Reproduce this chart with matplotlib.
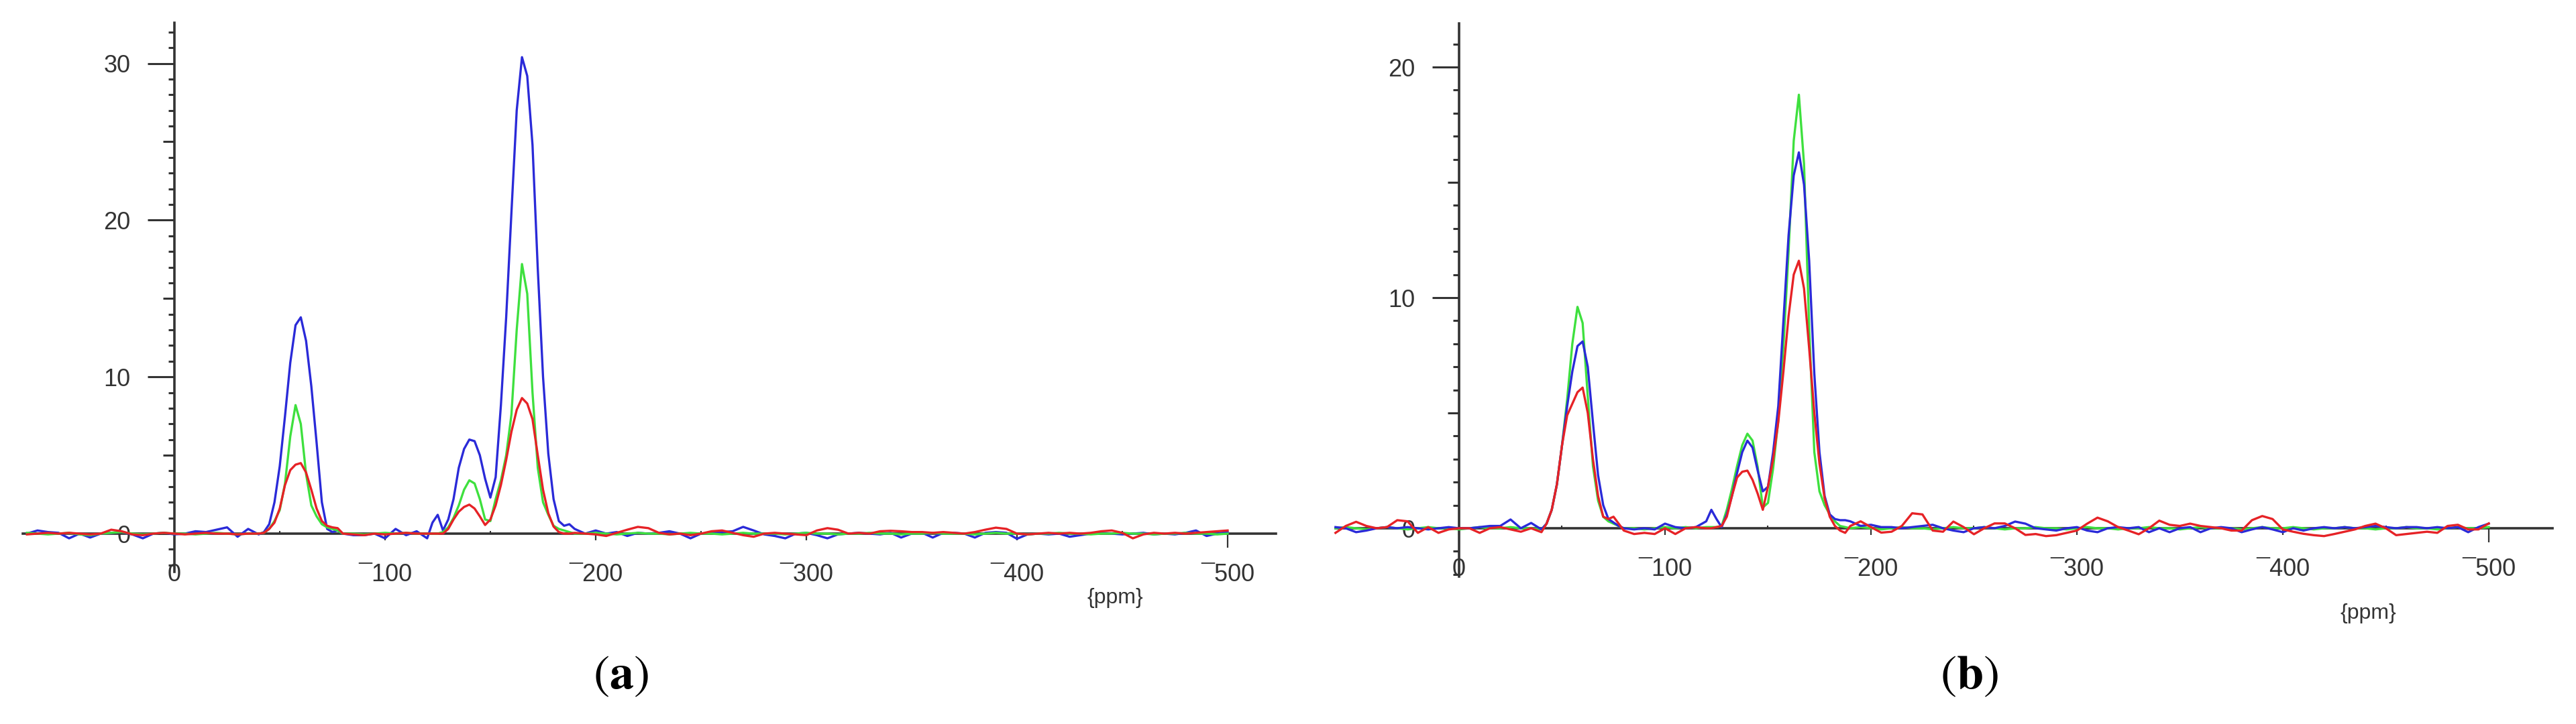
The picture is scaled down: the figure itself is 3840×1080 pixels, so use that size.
import matplotlib
matplotlib.use('Agg')
import matplotlib.pyplot as plt

# chemical shift grid (ppm) shared by both spectra; panel (b) starts at -60
ppm = [-70, -65, -60, -55, -50, -45, -40, -35, -30, -25, -20, -15, -10, -5, 0, 5, 10, 15, 20, 25, 30, 35, 40,
       42.5, 45, 47.5, 50, 52.5, 55, 57.5, 60, 62.5, 65, 67.5, 70, 72.5, 75, 77.5, 80,
       85, 90, 95, 100, 105, 110, 115, 120,
       122.5, 125, 127.5, 130, 132.5, 135, 137.5, 140, 142.5, 145, 147.5, 150, 152.5, 155, 157.5, 160,
       162.5, 165, 167.5, 170, 172.5, 175, 177.5, 180, 182.5, 185, 187.5, 190,
       195, 200, 205, 210, 215, 220, 225, 230, 235, 240, 245, 250, 255, 260, 265, 270, 275, 280, 285, 290,
       295, 300, 305, 310, 315, 320, 325, 330, 335, 340, 345, 350, 355, 360, 365, 370, 375, 380, 385, 390,
       395, 400, 405, 410, 415, 420, 425, 430, 435, 440, 445, 450, 455, 460, 465, 470, 475, 480, 485, 490,
       495, 500]

# panel (a)
blue_a = [0.0, 0.2, 0.1, 0.05, -0.3, 0.0, -0.25, 0.0, 0.05, 0.1, -0.05, -0.3, 0.0, 0.05, -0.05, 0.0, 0.15, 0.1, 0.25, 0.4, -0.2, 0.3, -0.05,
          0.1, 0.6, 2.0, 4.3, 7.5, 10.9, 13.3, 13.8, 12.3, 9.4, 5.8, 2.0, 0.3, 0.1, 0.2, 0.0,
          -0.1, -0.1, 0.0, -0.3, 0.3, -0.1, 0.15, -0.3,
          0.7, 1.2, 0.2, 0.9, 2.2, 4.2, 5.4, 6.0, 5.9, 5.0, 3.5, 2.3, 3.6, 8.2, 13.8, 20.5,
          27.0, 30.4, 29.2, 24.8, 16.9, 10.0, 5.1, 2.2, 0.8, 0.5, 0.6, 0.3,
          0.0, 0.2, 0.0, 0.1, -0.15, 0.05, 0.0, 0.05, 0.15, 0.0, -0.3, 0.0, 0.05, 0.1, 0.15, 0.43, 0.2, -0.05, -0.15, -0.3,
          0.0, 0.05, -0.1, -0.3, -0.05, 0.0, 0.05, 0.0, -0.05, 0.05, -0.25, 0.0, 0.05, -0.25, 0.05, 0.05, 0.0, -0.25, 0.05, 0.1,
          0.05, -0.33, -0.05, 0.0, -0.05, 0.0, -0.2, -0.1, 0.0, 0.05, 0.0, -0.05, 0.0, 0.05, -0.05, 0.0, -0.05, 0.05, 0.2, -0.15,
          0.0, 0.1]
green_a = [0.05, 0.0, -0.05, 0.0, 0.05, -0.05, -0.1, 0.0, 0.05, 0.1, 0.0, -0.05, 0.0, 0.05, 0.0, 0.0, -0.05, 0.0, 0.05, 0.0, -0.05, 0.0, 0.0,
           0.05, 0.3, 0.8, 1.5, 3.2, 6.2, 8.2, 7.0, 3.8, 1.8, 1.1, 0.6, 0.4, 0.3, 0.2, 0.0,
           0.0, -0.05, 0.0, 0.05, 0.0, 0.05, 0.0, 0.0,
           0.0, 0.0, 0.1, 0.4, 1.0, 1.8, 2.8, 3.4, 3.2, 2.2, 0.9, 0.8, 2.2, 3.4, 5.0, 7.6,
           13.0, 17.2, 15.3, 9.0, 4.2, 2.0, 1.2, 0.5, 0.3, 0.2, 0.1, 0.0,
           0.0, 0.05, 0.0, -0.05, 0.0, 0.05, 0.0, 0.0, -0.05, 0.0, 0.05, 0.0, 0.0, -0.05, 0.0, 0.05, 0.0, 0.0, 0.0, -0.05,
           0.0, 0.05, 0.0, 0.0, -0.05, 0.0, 0.0, 0.05, 0.0, 0.0, -0.05, 0.0, 0.0, 0.05, 0.0, 0.0, 0.0, -0.05, 0.0, 0.05,
           0.0, 0.0, -0.05, 0.0, 0.0, 0.05, 0.0, 0.0, -0.05, 0.0, 0.0, 0.05, 0.0, 0.0, -0.05, 0.0, 0.0, 0.05, 0.0, 0.0,
           -0.05, 0.0]
red_a = [-0.05, 0.0, 0.05, 0.0, 0.05, 0.0, -0.05, 0.0, 0.25, 0.15, -0.05, -0.1, 0.0, 0.05, 0.0, -0.05, 0.0, 0.05, 0.0, 0.0, -0.05, 0.0, 0.0,
         0.05, 0.3, 0.7, 1.6, 3.1, 4.05, 4.4, 4.5, 3.9, 2.8, 1.6, 0.8, 0.5, 0.4, 0.35, 0.0,
         -0.05, -0.1, 0.0, -0.05, 0.0, 0.05, 0.0, 0.0,
         0.0, 0.0, 0.0, 0.3, 0.9, 1.4, 1.7, 1.85, 1.6, 1.1, 0.55, 0.9, 1.8, 3.1, 4.7, 6.5,
         7.9, 8.65, 8.3, 7.3, 5.0, 2.8, 1.3, 0.45, 0.1, 0.0, 0.0, 0.05,
         0.0, -0.05, -0.15, 0.05, 0.25, 0.43, 0.35, 0.05, -0.05, 0.0, -0.1, 0.0, 0.15, 0.2, 0.05, -0.1, -0.2, 0.0, 0.05, 0.0,
         -0.05, -0.1, 0.2, 0.35, 0.25, 0.0, 0.05, 0.0, 0.15, 0.18, 0.15, 0.1, 0.1, 0.05, 0.1, 0.05, 0.0, 0.1, 0.25, 0.38,
         0.3, 0.0, -0.05, 0.0, 0.05, 0.0, 0.05, 0.0, 0.05, 0.15, 0.2, 0.05, -0.3, -0.05, 0.05, 0.0, 0.05, 0.0, 0.05, 0.1,
         0.15, 0.2]

# panel (b), from -60 ppm
blue_b = [0.05, 0.0, -0.17, -0.1, 0.0, 0.05, 0.0, 0.05, 0.0, -0.05, 0.0, 0.05, 0.0, 0.0, 0.05, 0.1, 0.1, 0.38, 0.0, 0.23, -0.05,
          0.2, 0.8, 1.9, 3.6, 5.3, 6.8, 7.9, 8.1, 7.0, 4.6, 2.3, 1.0, 0.4, 0.25, 0.1, 0.0,
          -0.05, 0.0, -0.05, 0.2, 0.05, 0.0, 0.05, 0.3,
          0.8, 0.4, 0.05, 0.6, 1.4, 2.4, 3.3, 3.8, 3.5, 2.5, 1.6, 1.8, 3.3, 5.3, 9.0, 12.7,
          15.3, 16.3, 14.9, 11.6, 6.7, 3.3, 1.4, 0.6, 0.4, 0.35, 0.35, 0.3,
          0.1, 0.15, 0.05, 0.05, 0.0, 0.05, 0.1, 0.15, 0.0, -0.1, -0.17, 0.0, 0.05, 0.0, 0.1, 0.29, 0.2, 0.0, -0.05, -0.1,
          0.0, 0.05, -0.1, -0.17, 0.0, 0.05, 0.0, 0.05, -0.17, 0.0, -0.17, 0.0, 0.05, -0.17, 0.0, 0.05, 0.0, -0.17, -0.05, 0.05,
          -0.05, -0.17, 0.0, -0.1, 0.0, 0.05, 0.0, 0.05, 0.0, 0.05, 0.1, 0.05, 0.0, 0.05, 0.05, 0.0, 0.05, 0.0, 0.05, -0.17,
          0.05, 0.2]
green_b = [0.0, 0.05, 0.0, -0.05, 0.0, 0.05, 0.0, -0.05, 0.0, 0.05, 0.0, 0.0, -0.05, 0.0, 0.05, 0.0, 0.0, 0.05, 0.0, 0.0, -0.05,
           0.2, 0.8, 1.9, 3.6, 5.6, 8.0, 9.6, 8.9, 5.7, 2.7, 1.2, 0.5, 0.3, 0.2, 0.1, 0.0,
           0.0, -0.05, 0.0, 0.05, 0.0, 0.05, 0.0, 0.05,
           0.05, 0.05, 0.1, 0.8, 1.7, 2.7, 3.6, 4.1, 3.8, 2.65, 0.9, 1.1, 2.6, 4.7, 7.9, 12.0,
           16.8, 18.8, 15.8, 8.7, 3.3, 1.6, 1.0, 0.6, 0.3, 0.1, 0.05, 0.0,
           0.05, 0.0, -0.05, 0.0, 0.05, 0.0, 0.0, -0.05, 0.0, 0.05, 0.0, 0.0, 0.05, 0.0, -0.05, 0.0, 0.0, 0.05, 0.0, 0.0,
           -0.05, 0.0, 0.05, 0.0, 0.0, -0.05, 0.0, 0.0, 0.05, 0.0, 0.0, -0.05, 0.0, 0.05, 0.0, 0.0, 0.0, -0.05, 0.0, 0.05,
           0.0, 0.0, 0.05, 0.0, -0.05, 0.0, 0.0, 0.05, 0.0, 0.0, -0.05, 0.0, 0.0, 0.05, 0.0, 0.0, -0.05, 0.0, 0.05, 0.0,
           0.0, 0.05]
red_b = [-0.2, 0.1, 0.28, 0.1, 0.0, 0.05, 0.35, 0.3, -0.2, 0.05, -0.2, -0.05, 0.0, 0.0, -0.2, 0.0, 0.05, -0.05, -0.15, 0.0, -0.17,
         0.2, 0.8, 1.9, 3.6, 4.9, 5.4, 5.9, 6.1, 5.0, 3.0, 1.4, 0.5, 0.4, 0.5, 0.2, -0.1,
         -0.25, -0.2, -0.25, 0.0, -0.25, 0.0, 0.05, 0.0,
         0.0, 0.05, 0.1, 0.5, 1.4, 2.2, 2.45, 2.5, 2.1, 1.5, 0.8, 1.8, 3.0, 4.6, 6.8, 9.2,
         11.0, 11.6, 10.4, 7.8, 5.0, 2.8, 1.3, 0.5, 0.1, -0.1, -0.2, 0.1,
         0.3, 0.05, -0.19, -0.15, 0.1, 0.65, 0.6, -0.1, -0.15, 0.29, 0.05, -0.26, 0.0, 0.21, 0.21, 0.0, -0.29, -0.25, -0.34, -0.3,
         -0.2, -0.1, 0.2, 0.46, 0.3, 0.05, -0.1, -0.26, 0.0, 0.33, 0.15, 0.1, 0.2, 0.1, 0.05, 0.0, -0.1, -0.1, 0.35, 0.53,
         0.4, -0.05, -0.15, -0.24, -0.3, -0.34, -0.25, -0.15, -0.05, 0.1, 0.2, 0.0, -0.3, -0.25, -0.2, -0.15, -0.2, 0.1, 0.15, -0.05,
         -0.05, 0.21]

x_ticks = [0, 100, 200, 300, 400, 500]
x_labels = ['0', '\u00af100', '\u00af200', '\u00af300', '\u00af400', '\u00af500']

BLUE = '#2a2ad8'
GREEN = '#3ee03e'
RED = '#e62226'
AXC = '#333333'
TXT = '#333333'

W, H = 3840, 1080
plt.rcParams['mathtext.fontset'] = 'stix'
fig = plt.figure(figsize=(W / 100, H / 100), dpi=100)


def panel(x0, sx, y0, sy, xlim, ylim):
	# place axes so that data (0,0) falls on pixel (x0, y0)
	left = x0 + xlim[0] * sx
	right = x0 + xlim[1] * sx
	top = y0 - ylim[1] * sy
	bottom = y0 - ylim[0] * sy
	ax = fig.add_axes([left / W, 1 - bottom / H, (right - left) / W, (bottom - top) / H])
	ax.set_xlim(xlim)
	ax.set_ylim(ylim)
	ax.patch.set_visible(False)
	return ax


def style(ax, xspan, yspan, yticks, ymax_minor):
	for s in ['top', 'right']:
		ax.spines[s].set_visible(False)
	for s in ['left', 'bottom']:
		ax.spines[s].set_position(('data', 0))
		ax.spines[s].set_color(AXC)
		ax.spines[s].set_linewidth(2.6)
	ax.spines['bottom'].set_bounds(*xspan)
	ax.spines['left'].set_bounds(*yspan)

	ax.set_yticks(yticks)
	ax.set_yticklabels([str(t) for t in yticks])
	ax.set_yticks(list(range(-2, ymax_minor + 1)), minor=True)
	ax.tick_params(axis='y', which='major', direction='out', length=29, width=2.2,
				   color=AXC, pad=18, labelsize=26, labelcolor=TXT)
	ax.tick_params(axis='y', which='minor', direction='out', length=6.5, width=2.2, color=AXC)
	for loc, tick in zip(ax.yaxis.get_minorticklocs(), ax.yaxis.get_minor_ticks()):
		if round(loc) % 5 == 0:
			tick.tick1line.set_markersize(12)

	ax.set_xticks(x_ticks)
	ax.set_xticklabels(x_labels)
	ax.set_xticks([50, 150, 250, 350, 450], minor=True)
	ax.tick_params(axis='x', which='major', direction='out', length=7, width=1.6,
				   color=AXC, pad=25, labelsize=26, labelcolor=TXT)
	ax.tick_params(axis='x', which='minor', direction='in', length=3, width=1.5, color=AXC)
	for loc, tick in zip(ax.xaxis.get_majorticklocs(), ax.xaxis.get_major_ticks()):
		if loc == 500:
			tick.tick1line.set_markersize(15)
	for lab in ax.get_xticklabels() + ax.get_yticklabels():
		lab.set_family('Liberation Sans')


# (a)
ax1 = panel(260, 3.14, 796, 23.38, (-80, 540), (-3, 33.5))
ax1.plot(ppm, blue_a, color=BLUE, lw=2.4, zorder=3)
ax1.plot(ppm, green_a, color=GREEN, lw=2.4, zorder=3)
ax1.plot(ppm, red_a, color=RED, lw=2.4, zorder=3)
style(ax1, (-72, 523), (-2.45, 32.6), [0, 10, 20, 30], 32)

# (b)
ax2 = panel(2175, 3.07, 788, 34.4, (-70, 540), (-2.5, 22.5))
ax2.plot(ppm[2:], green_b, color=GREEN, lw=2.4, zorder=3)
ax2.plot(ppm[2:], blue_b, color=BLUE, lw=2.4, zorder=3)
ax2.plot(ppm[2:], red_b, color=RED, lw=2.4, zorder=3)
style(ax2, (-60, 531), (-2.1, 21.9), [0, 10, 20], 21)

fig.text(1662 / W, 1 - 892 / H, '{ppm}', ha='center', va='center', fontsize=23,
		 family='Liberation Sans', color=TXT)
fig.text(3530 / W, 1 - 915 / H, '{ppm}', ha='center', va='center', fontsize=23,
		 family='Liberation Sans', color=TXT)
fig.text(925 / W, 1 - 1008 / H, r'$(\mathbf{a})$', ha='center', va='center', fontsize=52)
fig.text(2935 / W, 1 - 1008 / H, r'$(\mathbf{b})$', ha='center', va='center', fontsize=52)

fig.savefig('out.png', dpi=100, facecolor='white')
